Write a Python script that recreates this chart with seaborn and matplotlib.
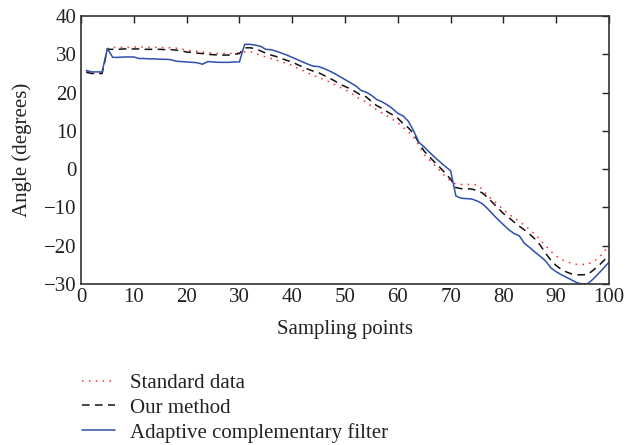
import matplotlib
matplotlib.use("Agg")
import matplotlib.pyplot as plt
import seaborn as sns
import pandas as pd

# Sampling points 1..100
sampling_points = list(range(1, 101))

standard_data = [
    25.5, 25.0, 25.0, 25.0, 31.5, 31.8, 31.8, 31.8, 31.8, 31.9,
    31.9, 31.9, 31.8, 31.8, 31.8, 31.7, 31.7, 31.6, 31.4, 31.1,
    30.9, 30.8, 30.6, 30.4, 30.3, 30.2, 30.2, 30.2, 30.3, 30.4,
    30.6, 30.7, 30.3, 29.7, 29.3, 28.9, 28.5, 28.0, 27.6, 27.1,
    26.4, 25.8, 25.1, 24.5, 24.0, 23.4, 22.8, 22.1, 21.4, 20.8,
    20.0, 19.0, 18.2, 17.5, 16.5, 15.5, 14.7, 13.9, 13.0, 12.1,
    10.9, 9.8, 8.3, 6.2, 3.8, 2.4, 1.0, -0.4, -1.9, -3.1,
    -3.9, -4.0, -4.0, -4.0, -4.1, -5.2, -7.0, -8.0, -9.3, -10.6,
    -11.7, -12.7, -13.6, -14.7, -15.8, -17.1, -18.5, -20.0, -21.5, -22.7,
    -23.6, -24.2, -24.6, -24.9, -24.9, -24.8, -24.2, -23.2, -21.8, -19.8,
]

our_method = [
    25.3, 25.0, 25.0, 25.0, 31.3, 31.3, 31.3, 31.4, 31.4, 31.4,
    31.4, 31.3, 31.3, 31.3, 31.3, 31.2, 31.2, 31.1, 30.9, 30.6,
    30.5, 30.3, 30.2, 30.0, 29.9, 29.8, 29.8, 29.8, 30.0, 30.2,
    31.7, 31.7, 31.5, 30.9, 30.3, 29.8, 29.4, 28.9, 28.4, 28.0,
    27.3, 26.7, 26.1, 25.6, 25.2, 24.5, 23.8, 23.1, 22.2, 21.6,
    21.0, 20.2, 19.3, 18.9, 17.7, 16.6, 15.9, 15.0, 14.2, 13.3,
    11.9, 10.8, 9.3, 6.8, 4.7, 3.2, 1.8, 0.4, -1.1, -2.6,
    -4.8, -5.1, -5.1, -5.2, -5.6, -6.2, -7.4, -8.8, -10.2, -11.6,
    -12.6, -13.8, -14.9, -15.9, -17.0, -18.3, -19.9, -22.0, -23.8, -25.2,
    -26.2, -26.9, -27.4, -27.6, -27.6, -27.5, -26.4, -25.3, -23.9, -22.3,
]

adaptive_filter = [
    25.8, 25.4, 25.4, 25.4, 31.5, 29.2, 29.2, 29.3, 29.3, 29.3,
    28.9, 28.9, 28.8, 28.8, 28.7, 28.7, 28.6, 28.2, 28.1, 28.0,
    27.9, 27.8, 27.4, 28.1, 28.0, 27.9, 27.9, 27.9, 28.0, 28.0,
    32.6, 32.6, 32.4, 32.1, 31.3, 31.2, 30.8, 30.3, 29.8, 29.2,
    28.6, 28.0, 27.4, 26.9, 26.8, 26.3, 25.7, 25.0, 24.2, 23.4,
    22.6, 21.8, 20.6, 20.1, 19.3, 18.2, 17.6, 16.8, 15.8, 14.6,
    13.9, 12.5, 10.0, 7.0, 5.8, 4.4, 3.1, 1.9, 0.7, -0.4,
    -7.0, -7.6, -7.7, -7.8, -8.3, -9.0, -10.3, -11.8, -13.2, -14.5,
    -15.8, -16.8, -17.4, -19.4, -20.5, -21.7, -22.8, -24.0, -25.8, -26.8,
    -27.6, -28.3, -29.0, -29.7, -30.0, -29.9, -28.7, -27.3, -25.8, -24.3,
]

series_names = ["Standard data", "Our method", "Adaptive complementary filter"]
x_ticks = [0, 10, 20, 30, 40, 50, 60, 70, 80, 90, 100]
y_ticks = [-30, -20, -10, 0, 10, 20, 30, 40]

sns.set_style("white")
plt.rcParams["font.family"] = ["Liberation Serif", "DejaVu Serif"]

FS = 15

fig = plt.figure(figsize=(6.25, 4.45), dpi=100)
ax = fig.add_axes([0.1296, 0.3618, 0.8448, 0.6022])

styles = [
    (standard_data, "#ff2a2a", (0, (1, 3.5))),
    (our_method, "#111111", (0, (5, 3.5))),
    (adaptive_filter, "#2f4faa", "-"),
]
for name, (vals, color, ls) in zip(series_names, styles):
    df = pd.DataFrame({"x": sampling_points, "y": vals})
    sns.lineplot(data=df, x="x", y="y", ax=ax, color=color, linestyle=ls,
                 linewidth=1.1, label=name, legend=False)

ax.set_xlim(0, 100)
ax.set_ylim(-30, 40)
ax.set_xticks(x_ticks)
ax.set_yticks(y_ticks)
ax.set_yticklabels([str(t).replace("-", "\u2212") for t in y_ticks])
ax.tick_params(direction="in", length=5, width=1, top=True, right=True,
               labelsize=FS, colors="#222222", pad=3)
for s in ax.spines.values():
    s.set_color("#333333")
    s.set_linewidth(1.2)

ax.set_xlabel("Sampling points", fontsize=FS, color="#222222", labelpad=9)
ax.set_ylabel("Angle (degrees)", fontsize=FS, color="#222222", labelpad=9)

handles, labels = ax.get_legend_handles_labels()
fig.legend(handles, labels, loc="upper left", bbox_to_anchor=(0.118, 0.18),
           frameon=False, fontsize=FS, handlelength=1.6, handletextpad=0.7,
           labelspacing=0.25, borderaxespad=0, labelcolor="#222222")

fig.savefig("out.png", dpi=100)
